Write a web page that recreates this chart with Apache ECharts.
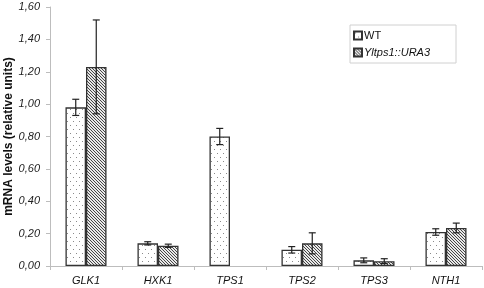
<!DOCTYPE html>
<html>
<head>
<meta charset="utf-8">
<script src="https://cdn.jsdelivr.net/npm/echarts@6/dist/echarts.min.js"></script>
<style>
  html, body { margin: 0; padding: 0; background: #fff; }
  #chart { width: 484px; height: 288px; }
</style>
</head>
<body>
<div id="chart"></div>
<script>
  // genes on the x axis
  var categories = ['GLK1', 'HXK1', 'TPS1', 'TPS2', 'TPS3', 'NTH1'];
  // wild type
  var wtValues = [0.98, 0.14, 0.80, 0.10, 0.035, 0.21];
  var wtErrors = [0.05, 0.01, 0.05, 0.02, 0.015, 0.02];
  // mutant (no TPS1 signal)
  var mutValues = [1.23, 0.125, null, 0.14, 0.03, 0.235];
  var mutErrors = [0.29, 0.01, null, 0.065, 0.015, 0.03];

  var seriesNames = ['WT', 'Yltps1::URA3'];

  // dotted fill for WT
  function dotPattern() {
    var c = document.createElement('canvas');
    c.width = 6; c.height = 8;
    var ctx = c.getContext('2d');
    ctx.fillStyle = '#fff';
    ctx.fillRect(0, 0, 6, 8);
    ctx.fillStyle = '#8a8a8a';
    ctx.fillRect(1, 1, 1, 1);
    ctx.fillRect(4, 5, 1, 1);
    return c;
  }

  // diagonal hatch for the mutant
  function hatchPattern() {
    var c = document.createElement('canvas');
    c.width = 3; c.height = 3;
    var ctx = c.getContext('2d');
    ctx.fillStyle = '#e8e8e8';
    ctx.fillRect(0, 0, 3, 3);
    ctx.fillStyle = '#444';
    for (var i = 0; i < 3; i++) ctx.fillRect(i, i, 1, 1);
    return c;
  }

  var fmt = function (v) { return v.toFixed(2).replace('.', ','); };

  // error bars drawn on top of each bar
  function errorSeries(values, errors, side) {
    var data = [];
    for (var i = 0; i < values.length; i++) {
      if (values[i] == null) continue;
      data.push([i, values[i] - errors[i], values[i] + errors[i]]);
    }
    return {
      type: 'custom',
      z: 10,
      silent: true,
      data: data,
      encode: { x: 0, y: [1, 2] },
      renderItem: function (params, api) {
        var band = api.size([1, 0])[0];
        var off = side * band * 0.1425;
        var lo = api.coord([api.value(0), api.value(1)]);
        var hi = api.coord([api.value(0), api.value(2)]);
        var x = lo[0] + off;
        var cap = 3.5;
        var style = { stroke: '#222', lineWidth: 1.2 };
        return {
          type: 'group',
          children: [
            { type: 'line', shape: { x1: x, y1: lo[1], x2: x, y2: hi[1] }, style: style },
            { type: 'line', shape: { x1: x - cap, y1: lo[1], x2: x + cap, y2: lo[1] }, style: style },
            { type: 'line', shape: { x1: x - cap, y1: hi[1], x2: x + cap, y2: hi[1] }, style: style }
          ]
        };
      }
    };
  }

  var chart = echarts.init(document.getElementById('chart'));
  chart.setOption({
    animation: false,
    grid: { left: 50, right: 2, top: 7, bottom: 22, outerBoundsMode: 'none', containLabel: false },
    legend: {
      orient: 'vertical',
      left: 350,
      top: 25,
      padding: [5, 26, 5, 3],
      itemGap: 6,
      itemWidth: 8,
      itemHeight: 8,
      icon: 'rect',
      borderColor: '#d0d0d0',
      borderWidth: 1,
      textStyle: { fontFamily: 'Liberation Sans', fontSize: 11, color: '#111', padding: [0, 0, 0, -3] },
      data: [
        { name: seriesNames[0] },
        { name: seriesNames[1], textStyle: { fontStyle: 'italic' } }
      ]
    },
    xAxis: {
      type: 'category',
      data: categories,
      axisLine: { lineStyle: { color: '#bdbdbd' } },
      axisTick: { show: true, length: 4, lineStyle: { color: '#bdbdbd' } },
      axisLabel: { fontFamily: 'Liberation Sans', fontSize: 11, fontStyle: 'italic', color: '#111', margin: 9 }
    },
    yAxis: {
      type: 'value',
      min: 0,
      max: 1.6,
      interval: 0.2,
      name: 'mRNA levels (relative units)',
      nameLocation: 'middle',
      nameGap: 35,
      nameMoveOverlap: false,
      nameTextStyle: { fontFamily: 'Liberation Sans', fontSize: 12, fontWeight: 'bold', color: '#111' },
      axisLine: { show: true, lineStyle: { color: '#bdbdbd' } },
      axisTick: { show: true, length: 4, lineStyle: { color: '#bdbdbd' } },
      splitLine: { show: false },
      axisLabel: { fontFamily: 'Liberation Sans', fontSize: 11, fontStyle: 'italic', color: '#222', margin: 10, formatter: fmt }
    },
    series: [
      {
        name: seriesNames[0],
        type: 'bar',
        data: wtValues,
        barGap: 0,
        barCategoryGap: '43%',
        itemStyle: { color: { image: dotPattern(), repeat: 'repeat' }, borderColor: '#333', borderWidth: 1.3 }
      },
      {
        name: seriesNames[1],
        type: 'bar',
        data: mutValues,
        barGap: 0,
        barCategoryGap: '43%',
        itemStyle: { color: { image: hatchPattern(), repeat: 'repeat' }, borderColor: '#333', borderWidth: 1.3 }
      },
      errorSeries(wtValues, wtErrors, -1),
      errorSeries(mutValues, mutErrors, 1)
    ]
  });
</script>
</body>
</html>
